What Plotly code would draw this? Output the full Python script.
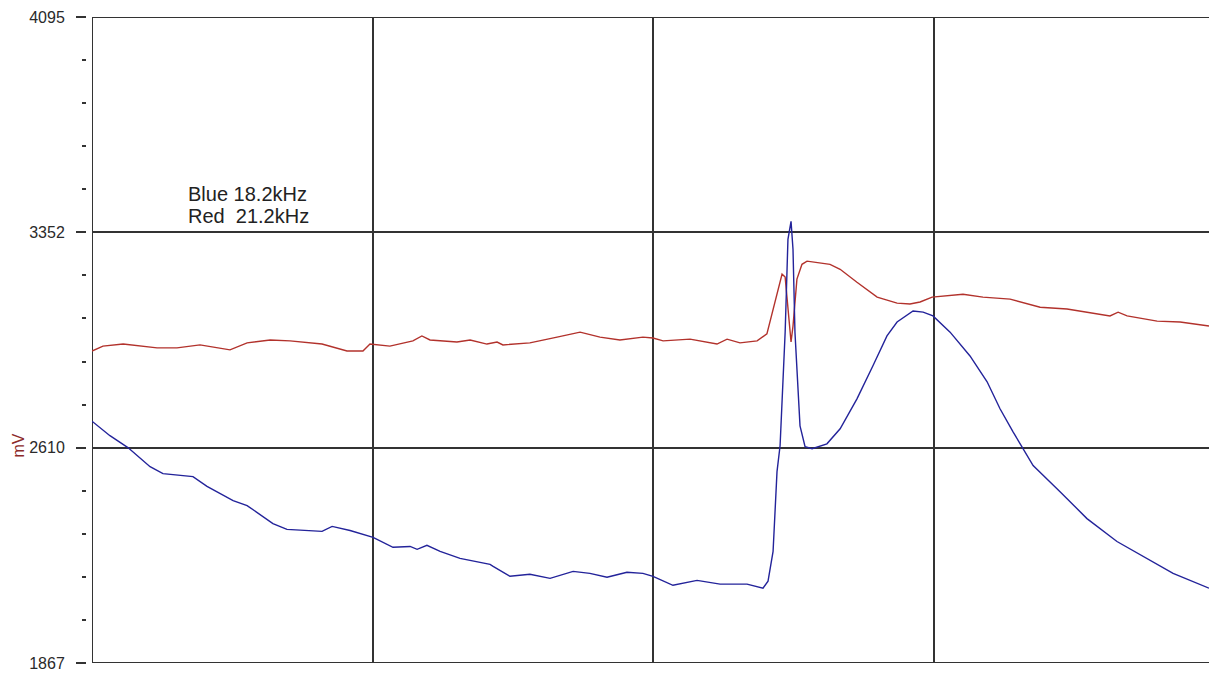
import plotly.graph_objects as go

# ---- data (sample index vs mV) ----
blue_x = [0, 1.1, 6.4, 12.8, 20.7, 25.3, 36.0, 41.0, 50.3, 55.3, 64.5, 69.5, 82.0, 85.6, 92.0,
          100.2, 107.3, 113.4, 115.9, 119.4, 124.1, 131.2, 135.8, 141.9, 143.0, 149.0, 156.1,
          163.3, 171.5, 177.5, 183.6, 190.7, 196.4, 200.0, 207.1, 215.7, 223.9, 233.5, 239.2,
          241.0, 242.8, 244.2, 245.3, 247.1, 248.1, 249.2, 249.9, 250.6, 252.4, 254.2, 256.7,
          262.0, 266.7, 272.7, 278.4, 283.4, 287.0, 292.7, 296.3, 299.8, 305.9, 313.0, 319.1,
          323.7, 328.3, 331.9, 335.5, 345.1, 354.7, 365.4, 376.1, 385.4, 398.2]
blue_y = [2701, 2692, 2651, 2610, 2544, 2520, 2510, 2476, 2427, 2410, 2348, 2328, 2321, 2338, 2324,
          2300, 2266, 2269, 2259, 2273, 2252, 2228, 2218, 2207, 2200, 2166, 2173,
          2159, 2183, 2176, 2163, 2180, 2176, 2166, 2135, 2152, 2139, 2139, 2125,
          2149, 2252, 2527, 2617, 3008, 3328, 3390, 3294, 3008, 2685, 2613, 2606,
          2623, 2675, 2778, 2892, 2995, 3043, 3081, 3077, 3064, 3008, 2926, 2837,
          2744, 2665, 2606, 2548, 2458, 2365, 2286, 2228, 2176, 2125]

red_x = [0, 3.9, 11.1, 23.2, 30.3, 38.5, 49.2, 55.3, 63.5, 70.6, 82.0, 90.9, 96.6, 99.1, 106.2,
         114.4, 117.6, 120.5, 130.1, 134.8, 140.8, 144.4, 146.5, 156.1, 165.8, 174.0, 181.1,
         188.2, 196.4, 200.0, 203.6, 213.2, 222.8, 226.4, 231.0, 237.1, 240.6, 242.8, 246.0,
         247.1, 248.1, 249.2, 249.9, 251.3, 253.1, 254.9, 263.1, 266.7, 272.7, 279.9, 287.0,
         291.6, 295.2, 299.5, 310.5, 317.6, 327.3, 338.0, 347.6, 354.7, 362.9, 365.8, 369.0,
         379.7, 387.9, 398.2]
red_y = [2943, 2960, 2967, 2954, 2954, 2964, 2947, 2971, 2981, 2978, 2967, 2943, 2943, 2967, 2960,
         2978, 2995, 2981, 2974, 2981, 2967, 2974, 2964, 2971, 2991, 3008, 2991,
         2981, 2991, 2988, 2978, 2984, 2967, 2984, 2971, 2978, 3002, 3088, 3208,
         3198, 3088, 2974, 3029, 3191, 3242, 3253, 3242, 3225, 3180, 3129, 3108,
         3105, 3112, 3129, 3139, 3129, 3122, 3094, 3088, 3077, 3064, 3077, 3064,
         3046, 3043, 3029]

y_ticks = [1867, 2610, 3352, 4095]
y_labels = ["1867", "2610", "3352", "4095"]
x_grid = [0, 100, 200, 300]
legend_lines = ["Blue 18.2kHz", "Red\u00a0\u00a021.2kHz"]
legend_y = [3486, 3407]

X_MAX = 398.2
Y_MIN, Y_MAX = 1867, 4095

GRID = "#333333"
BLUE = "#23239a"
RED = "#b2322c"

fig = go.Figure()
fig.add_trace(go.Scatter(x=red_x, y=red_y, mode="lines",
                         line=dict(color=RED, width=1.4), hoverinfo="skip"))
fig.add_trace(go.Scatter(x=blue_x, y=blue_y, mode="lines",
                         line=dict(color=BLUE, width=1.4), hoverinfo="skip"))

minor_vals = []
step = (Y_MAX - Y_MIN) / 15
for i in range(16):
    if i % 5:
        minor_vals.append(Y_MIN + i * step)

W, H = 1209, 673
ML = 86
gap = 6
PW = W - ML
fig.update_layout(
    width=W, height=H,
    margin=dict(l=ML, r=0, t=17, b=10, autoexpand=False),
    paper_bgcolor="white", plot_bgcolor="white",
    showlegend=False,
    font=dict(family="Liberation Sans, Arial, sans-serif", color="#222"),
    xaxis=dict(range=[0, X_MAX], domain=[gap / PW, 1],
               tickmode="array", tickvals=x_grid, showticklabels=False,
               ticks="", showgrid=True, gridcolor=GRID, gridwidth=2,
               zeroline=False, showline=False, fixedrange=True, automargin=False),
    yaxis=dict(range=[Y_MIN, Y_MAX], anchor="free", position=0,
               tickmode="array", tickvals=y_ticks, ticktext=y_labels,
               ticks="outside", ticklen=10, tickwidth=2, tickcolor=GRID,
               ticklabelstandoff=8,
               tickfont=dict(size=16, color="#2a2a2a"),
               showgrid=True, gridcolor=GRID, gridwidth=2,
               minor=dict(tickmode="array", tickvals=minor_vals, ticks="outside",
                          ticklen=4, tickwidth=2, tickcolor=GRID, showgrid=False),
               zeroline=False, showline=False, fixedrange=True, automargin=False),
)

# frame lines (left, top, bottom)
for (x0, y0, x1, y1) in [(0, Y_MIN, 0, Y_MAX), (0, Y_MAX, X_MAX, Y_MAX), (0, Y_MIN, X_MAX, Y_MIN)]:
    fig.add_shape(type="line", x0=x0, y0=y0, x1=x1, y1=y1, xref="x", yref="y",
                  line=dict(color=GRID, width=2), layer="below")

for txt, ty in zip(legend_lines, legend_y):
    fig.add_annotation(x=33.5, y=ty, xref="x", yref="y", text=txt,
                       showarrow=False, xanchor="left", yanchor="middle", align="left",
                       font=dict(size=20, color="#222"))

fig.add_annotation(x=(18.5 - ML) / PW, xref="paper", y=2615, yref="y", text="mV",
                   textangle=-90, showarrow=False, xanchor="center", yanchor="middle",
                   font=dict(size=16, color="#8c2a2a"))

fig.write_html("out.html",
               config={"displayModeBar": False},
               post_script="document.body.style.margin='0';"
                           "document.documentElement.style.overflow='hidden';")
